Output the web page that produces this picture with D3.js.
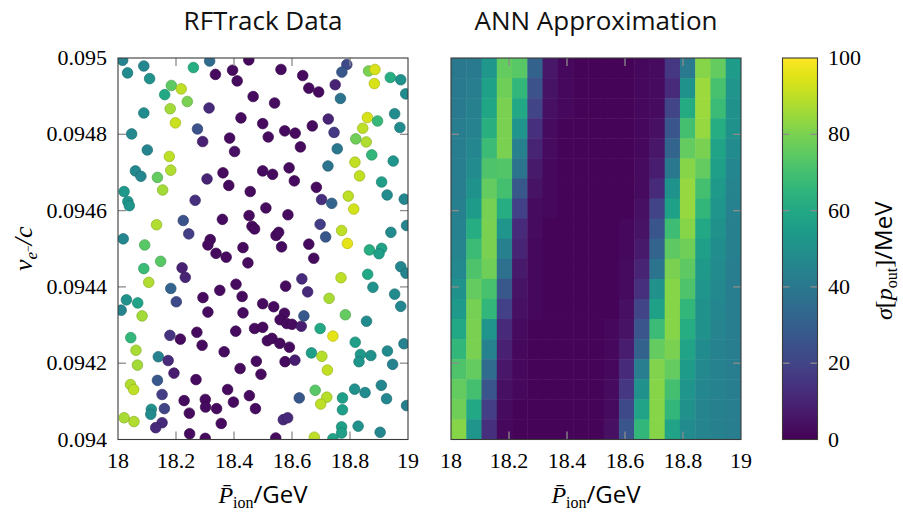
<!DOCTYPE html>
<html>
<head>
<meta charset="utf-8">
<script src="https://cdn.jsdelivr.net/npm/d3@7"></script>
<style>
  body { margin: 0; background: #fff; }
</style>
</head>
<body>
<div id="chart"></div>
<script>
// ---- data ----
// RFTrack samples: momentum (GeV), velocity (c), sigma (MeV)
const sampleP = [
  18.016, 18.089, 18.033, 18.109, 18.184, 18.218, 18.161, 18.239, 18.180, 18.089,
  18.198, 18.260, 18.316, 18.336, 18.395, 18.411, 18.451, 18.466, 18.314, 18.424,
  18.499, 18.274, 18.047, 18.292, 18.385, 18.402, 18.101, 18.177, 18.060, 18.079,
  18.182, 18.136, 18.154, 18.021, 18.034, 18.039, 18.307, 18.362, 18.382, 18.456,
  18.499, 18.266, 18.225, 18.133, 18.244, 18.018, 18.092, 18.360, 18.452, 18.462,
  18.471, 18.318, 18.310, 18.431,
  18.338, 18.373, 18.448, 18.147, 18.089, 18.106, 18.221, 18.232, 18.182, 18.201,
  18.029, 18.068, 18.011, 18.083, 18.293, 18.351, 18.407, 18.428, 18.310, 18.431,
  18.499, 18.044, 18.062, 18.067, 18.179, 18.215, 18.272, 18.290, 18.366, 18.406,
  18.471, 18.499, 18.139, 18.173, 18.193, 18.136, 18.043, 18.054, 18.152, 18.269,
  18.421, 18.477, 18.493, 18.378, 18.228, 18.301, 18.302, 18.340, 18.398, 18.453,
  18.474, 18.160, 18.115, 18.113, 18.021, 18.055, 18.152, 18.130, 18.246, 18.356,
  18.247, 18.301,
  18.562, 18.637, 18.658, 18.692, 18.749, 18.789, 18.772, 18.767, 18.864, 18.886,
  18.884, 18.939, 18.975, 18.992, 18.540, 18.518, 18.575, 18.611, 18.629, 18.670,
  18.725, 18.745, 18.756, 18.860, 18.844, 18.895, 18.954, 18.972, 18.820, 18.856,
  18.875, 18.817, 18.949, 18.724, 18.533, 18.590, 18.608, 18.833, 18.909, 18.928,
  18.987, 18.684, 18.702, 18.737, 18.794, 18.813, 18.510, 18.586, 18.697, 18.716,
  18.771, 18.791, 18.941, 18.995, 18.545, 18.554, 18.564, 18.658,
  18.867, 18.909, 18.900, 18.675, 18.975, 18.993, 18.769, 18.861, 18.879, 18.954,
  18.975, 18.634, 18.578, 18.654, 18.728, 18.784, 18.537, 18.574, 18.559, 18.582,
  18.600, 18.632, 18.641, 18.515, 18.531, 18.558, 18.591, 18.697, 18.741, 18.857,
  18.818, 18.667, 18.703, 18.722, 18.576, 18.610, 18.836, 18.831, 18.872, 18.929,
  18.947, 18.986, 18.625, 18.680, 18.720, 18.699, 18.774, 18.816, 18.852, 18.908,
  18.926, 18.995, 18.774, 18.570, 18.585, 18.544, 18.677, 18.741, 18.771, 18.771,
  18.828, 18.904
];
const sampleV = [
  0.094994, 0.094979, 0.094961, 0.094946, 0.094928, 0.094919, 0.094904, 0.094886, 0.094867, 0.094856,
  0.094830, 0.094975, 0.094992, 0.094957, 0.094968, 0.094940, 0.094995, 0.094899, 0.094869, 0.094843,
  0.094828, 0.094814, 0.094801, 0.094781, 0.094790, 0.094755, 0.094759, 0.094742, 0.094704, 0.094690,
  0.094706, 0.094687, 0.094654, 0.094650, 0.094624, 0.094613, 0.094683, 0.094699, 0.094666, 0.094650,
  0.094704, 0.094627, 0.094574, 0.094563, 0.094539, 0.094526, 0.094510, 0.094577, 0.094587, 0.094559,
  0.094552, 0.094524, 0.094510, 0.094503,
  0.094488, 0.094478, 0.094463, 0.094467, 0.094448, 0.094412, 0.094450, 0.094425, 0.094396, 0.094361,
  0.094366, 0.094358, 0.094339, 0.094324, 0.094372, 0.094391, 0.094407, 0.094375, 0.094334, 0.094332,
  0.094356, 0.094267, 0.094234, 0.094195, 0.094273, 0.094263, 0.094281, 0.094247, 0.094230, 0.094284,
  0.094291, 0.094294, 0.094217, 0.094207, 0.094174, 0.094155, 0.094144, 0.094131, 0.094118, 0.094157,
  0.094186, 0.094205, 0.094171, 0.094131, 0.094102, 0.094105, 0.094085, 0.094081, 0.094098, 0.094115,
  0.094081, 0.094081, 0.094079, 0.094066, 0.094057, 0.094047, 0.094044, 0.094031, 0.094069, 0.094042,
  0.094015, 0.094003,
  0.094970, 0.094954, 0.094921, 0.094911, 0.094930, 0.094983, 0.094963, 0.094894, 0.094966, 0.094970,
  0.094933, 0.094949, 0.094943, 0.094906, 0.094882, 0.094793, 0.094809, 0.094803, 0.094767, 0.094822,
  0.094840, 0.094805, 0.094762, 0.094844, 0.094816, 0.094835, 0.094854, 0.094818, 0.094788, 0.094780,
  0.094746, 0.094727, 0.094730, 0.094717, 0.094695, 0.094712, 0.094678, 0.094691, 0.094675, 0.094641,
  0.094630, 0.094661, 0.094629, 0.094619, 0.094638, 0.094604, 0.094607, 0.094589, 0.094564, 0.094531,
  0.094548, 0.094514, 0.094543, 0.094561, 0.094535, 0.094543, 0.094505, 0.094512,
  0.094497, 0.094501, 0.094487, 0.094475, 0.094453, 0.094436, 0.094424, 0.094433, 0.094399, 0.094381,
  0.094349, 0.094421, 0.094402, 0.094387, 0.094370, 0.094327, 0.094348, 0.094331, 0.094314, 0.094304,
  0.094302, 0.094297, 0.094324, 0.094259, 0.094265, 0.094252, 0.094242, 0.094291, 0.094271, 0.094310,
  0.094255, 0.094227, 0.094218, 0.094182, 0.094204, 0.094208, 0.094223, 0.094204, 0.094220, 0.094232,
  0.094197, 0.094251, 0.094109, 0.094129, 0.094111, 0.094093, 0.094109, 0.094132, 0.094123, 0.094142,
  0.094107, 0.094089, 0.094078, 0.094052, 0.094057, 0.094004, 0.094006, 0.094002, 0.094033, 0.094017,
  0.094035, 0.094019
];
const sampleSigma = [
  45, 46, 48, 50, 75, 90, 60, 80, 86, 48,
  92, 62, 35, 3, 3, 3, 2, 3, 12, 3,
  3, 25, 47, 9, 3, 4, 45, 90, 47, 46,
  88, 76, 86, 54, 52, 52, 10, 3, 3, 3,
  3, 14, 25, 88, 18, 46, 74, 3, 3, 3,
  3, 3, 3, 3,
  3, 3, 3, 74, 68, 88, 9, 10, 32, 22,
  50, 58, 45, 86, 3, 3, 3, 3, 3, 3,
  3, 66, 87, 86, 15, 3, 3, 3, 3, 3,
  3, 3, 44, 12, 8, 27, 88, 90, 18, 3,
  3, 3, 3, 3, 3, 3, 3, 3, 3, 3,
  3, 20, 50, 48, 87, 88, 12, 12, 3, 3,
  3, 3,
  3, 3, 3, 3, 10, 22, 27, 38, 80, 94,
  94, 62, 50, 48, 3, 3, 3, 3, 3, 3,
  10, 17, 40, 94, 90, 67, 48, 48, 78, 88,
  66, 91, 52, 38, 3, 3, 3, 91, 56, 48,
  46, 3, 13, 32, 90, 93, 3, 3, 18, 27,
  90, 96, 48, 45, 3, 3, 3, 3,
  62, 58, 56, 3, 46, 45, 90, 60, 50, 48,
  46, 12, 3, 12, 87, 76, 3, 3, 3, 3,
  3, 8, 27, 3, 3, 3, 3, 60, 96, 48,
  56, 56, 89, 91, 3, 8, 54, 52, 50, 48,
  44, 44, 27, 74, 89, 90, 56, 50, 48, 46,
  46, 42, 56, 12, 12, 3, 90, 58, 56, 56,
  50, 46
];

// ANN approximation grid: 19 x 19 cells, rows listed from v = 0.095 (top) down to 0.094
const annSigma = [
  [40, 41, 53, 76, 74, 31, 6, 2, 1, 1, 1, 1, 2, 3, 16, 41, 82, 76, 55],
  [41, 42, 57, 78, 66, 25, 5, 2, 1, 1, 1, 1, 2, 3, 12, 51, 85, 71, 52],
  [41, 43, 59, 80, 60, 20, 4, 2, 1, 1, 1, 1, 2, 3, 20, 61, 85, 68, 50],
  [42, 44, 63, 80, 52, 14, 3, 1, 1, 1, 1, 1, 2, 4, 26, 70, 84, 62, 50],
  [42, 46, 68, 80, 43, 10, 3, 1, 1, 1, 1, 1, 2, 6, 32, 76, 80, 58, 48],
  [42, 48, 72, 73, 38, 7, 2, 1, 1, 1, 1, 1, 3, 8, 40, 82, 76, 56, 46],
  [42, 51, 76, 70, 27, 5, 2, 1, 1, 1, 1, 1, 3, 12, 51, 84, 70, 54, 45],
  [43, 55, 79, 62, 19, 3, 2, 1, 1, 1, 1, 1, 4, 20, 57, 84, 66, 52, 44],
  [44, 62, 80, 52, 12, 3, 1, 1, 1, 1, 1, 2, 5, 26, 69, 82, 60, 50, 43],
  [45, 68, 80, 43, 10, 2, 1, 1, 1, 1, 1, 2, 7, 32, 75, 78, 56, 49, 43],
  [47, 72, 78, 37, 7, 2, 1, 1, 1, 1, 1, 3, 10, 38, 80, 75, 54, 48, 42],
  [50, 76, 71, 27, 5, 2, 1, 1, 1, 1, 1, 3, 14, 50, 82, 72, 52, 47, 42],
  [54, 79, 66, 19, 4, 2, 1, 1, 1, 1, 1, 4, 20, 57, 82, 66, 50, 46, 42],
  [60, 80, 52, 12, 3, 1, 1, 1, 1, 1, 2, 5, 26, 68, 82, 62, 50, 45, 42],
  [66, 80, 44, 9, 2, 1, 1, 1, 1, 1, 2, 8, 31, 76, 80, 58, 48, 44, 42],
  [72, 76, 35, 6, 2, 1, 1, 1, 1, 1, 2, 12, 42, 81, 76, 55, 47, 44, 42],
  [76, 70, 26, 4, 2, 1, 1, 1, 1, 1, 3, 16, 50, 82, 70, 52, 46, 44, 42],
  [78, 60, 18, 3, 1, 1, 1, 1, 1, 1, 3, 22, 58, 82, 66, 50, 45, 43, 42],
  [82, 52, 14, 2, 1, 1, 1, 1, 1, 1, 4, 26, 66, 82, 58, 48, 45, 43, 42]
];

const xTicks = [18, 18.2, 18.4, 18.6, 18.8, 19];
const xTickLabels = ["18", "18.2", "18.4", "18.6", "18.8", "19"];
const yTicks = [0.094, 0.0942, 0.0944, 0.0946, 0.0948, 0.095];
const yTickLabels = ["0.094", "0.0942", "0.0944", "0.0946", "0.0948", "0.095"];
const cbTicks = [0, 20, 40, 60, 80, 100];

// ---- layout ----
const width = 903, height = 513;
const serif = "'Liberation Serif', 'DejaVu Serif', serif";
const sans = "'Open Sans', 'DejaVu Sans', sans-serif";
const plotTop = 58, plotBottom = 439.5;
const panels = [
  { id: "rf", left: 118, right: 408, title: "RFTrack Data" },
  { id: "ann", left: 451, right: 741, title: "ANN Approximation" }
];
const cb = { left: 782.5, right: 817.5 };

const svg = d3.select("#chart").append("svg")
    .attr("width", width).attr("height", height)
    .style("background", "white");

const color = d3.scaleSequential(d3.interpolateViridis).domain([0, 100]);
const y = d3.scaleLinear().domain([0.094, 0.095]).range([plotBottom, plotTop]);

const defs = svg.append("defs");

panels.forEach(p => {
    p.x = d3.scaleLinear().domain([18, 19]).range([p.left, p.right]);
    defs.append("clipPath").attr("id", "clip-" + p.id)
      .append("rect")
        .attr("x", p.left).attr("y", plotTop)
        .attr("width", p.right - p.left).attr("height", plotBottom - plotTop);
});

// ---- ANN heat map ----
const ann = panels[1];
const colBand = d3.scaleBand().domain(d3.range(annSigma[0].length))
    .range([ann.x(18), ann.x(19)]);
const rowBand = d3.scaleBand().domain(d3.range(annSigma.length))
    .range([y(0.095), y(0.094)]);

const cells = [];
annSigma.forEach((row, r) => row.forEach((v, c) => cells.push({ r, c, v })));

svg.append("g").attr("clip-path", "url(#clip-ann)")
  .selectAll("rect").data(cells).join("rect")
    .attr("x", d => colBand(d.c))
    .attr("y", d => rowBand(d.r))
    .attr("width", colBand.bandwidth() + 0.5)
    .attr("height", rowBand.bandwidth() + 0.5)
    .attr("fill", d => color(d.v));

// ---- RFTrack scatter ----
const rf = panels[0];
const pts = sampleP.map((p, i) => ({ p, v: sampleV[i], s: sampleSigma[i] }));

svg.append("g").attr("clip-path", "url(#clip-rf)")
  .selectAll("circle").data(pts).join("circle")
    .attr("cx", d => rf.x(d.p))
    .attr("cy", d => y(d.v))
    .attr("r", 5.3)
    .attr("fill", d => color(d.s))
    .attr("stroke", d => d3.color(color(d.s)).darker(0.6))
    .attr("stroke-width", 0.7);

// ---- frames, ticks, tick labels ----
const tickLen = 8;
panels.forEach((p, i) => {
    const g = svg.append("g");
    const inner = xTicks.slice(1, -1);
    const innerY = yTicks.slice(1, -1);

    inner.forEach(t => {
        g.append("line").attr("x1", p.x(t)).attr("x2", p.x(t))
          .attr("y1", plotBottom).attr("y2", plotBottom - tickLen);
        g.append("line").attr("x1", p.x(t)).attr("x2", p.x(t))
          .attr("y1", plotTop).attr("y2", plotTop + tickLen);
    });
    innerY.forEach(t => {
        g.append("line").attr("x1", p.left).attr("x2", p.left + tickLen)
          .attr("y1", y(t)).attr("y2", y(t));
        g.append("line").attr("x1", p.right).attr("x2", p.right - tickLen)
          .attr("y1", y(t)).attr("y2", y(t));
    });
    g.selectAll("line").attr("stroke", "#8c8c8c").attr("stroke-width", 1.3);

    g.append("rect")
        .attr("x", p.left).attr("y", plotTop)
        .attr("width", p.right - p.left).attr("height", plotBottom - plotTop)
        .attr("fill", "none").attr("stroke", "#3a3a3a").attr("stroke-width", 1.1);

    svg.append("g").selectAll("text").data(xTicks).join("text")
        .attr("x", d => p.x(d)).attr("y", 468)
        .attr("text-anchor", "middle")
        .style("font-family", serif).style("font-size", "22px")
        .text((d, k) => xTickLabels[k]);

    if (i === 0) {
        svg.append("g").selectAll("text").data(yTicks).join("text")
            .attr("x", 107).attr("y", d => y(d) + 7)
            .attr("text-anchor", "end")
            .style("font-family", serif).style("font-size", "22px")
            .text((d, k) => yTickLabels[k]);
    }

    svg.append("text")
        .attr("x", (p.left + p.right) / 2).attr("y", 30)
        .attr("text-anchor", "middle")
        .style("font-family", sans).style("font-size", "26px")
        .style("fill", "#111")
        .text(p.title);

    // x label  P̄_ion / GeV
    const xl = svg.append("text")
        .attr("x", (p.left + p.right) / 2).attr("y", 503)
        .attr("text-anchor", "middle")
        .style("font-size", "24px");
    xl.append("tspan").style("font-family", serif).style("font-style", "italic").text("P\u0304");
    xl.append("tspan").style("font-family", serif).style("font-size", "16px")
        .attr("dy", 5).text("ion");
    xl.append("tspan").style("font-family", sans).attr("dy", -5).text("/GeV");
});

// y label  v_{e-}/c
const yl = svg.append("text")
    .attr("transform", `translate(32,${(plotTop + plotBottom) / 2}) rotate(-90)`)
    .attr("text-anchor", "middle")
    .style("font-family", serif).style("font-style", "italic").style("font-size", "26px");
yl.append("tspan").text("v");
yl.append("tspan").style("font-size", "17px").attr("dy", 5).text("e");
yl.append("tspan").style("font-size", "12px").style("font-style", "normal").attr("dy", -5).text("\u2212");
yl.append("tspan").attr("dy", 0).text("/c");

// ---- colour bar ----
const cbScale = d3.scaleLinear().domain([0, 100]).range([plotBottom, plotTop]);
const grad = defs.append("linearGradient").attr("id", "cbgrad")
    .attr("x1", 0).attr("y1", 1).attr("x2", 0).attr("y2", 0);
grad.selectAll("stop").data(d3.range(0, 101, 5)).join("stop")
    .attr("offset", d => d / 100)
    .attr("stop-color", d => color(d));

svg.append("rect")
    .attr("x", cb.left).attr("y", plotTop)
    .attr("width", cb.right - cb.left).attr("height", plotBottom - plotTop)
    .attr("fill", "url(#cbgrad)");

const cbg = svg.append("g");
cbTicks.slice(1, -1).forEach(t => {
    cbg.append("line").attr("x1", cb.left).attr("x2", cb.left + 7)
      .attr("y1", cbScale(t)).attr("y2", cbScale(t));
    cbg.append("line").attr("x1", cb.right).attr("x2", cb.right - 7)
      .attr("y1", cbScale(t)).attr("y2", cbScale(t));
});
cbg.selectAll("line").attr("stroke", "#8c8c8c").attr("stroke-width", 1.3);

svg.append("rect")
    .attr("x", cb.left).attr("y", plotTop)
    .attr("width", cb.right - cb.left).attr("height", plotBottom - plotTop)
    .attr("fill", "none").attr("stroke", "#3a3a3a").attr("stroke-width", 1.1);

svg.append("g").selectAll("text").data(cbTicks).join("text")
    .attr("x", 828).attr("y", d => cbScale(d) + 7)
    .style("font-family", serif).style("font-size", "22px")
    .text(d => d);

// colour bar label  σ[p_out]/MeV
const cl = svg.append("text")
    .attr("transform", `translate(892,${(plotTop + plotBottom) / 2 + 12}) rotate(-90)`)
    .attr("text-anchor", "middle")
    .style("font-size", "24px");
cl.append("tspan").style("font-family", serif).style("font-style", "italic").text("\u03c3");
cl.append("tspan").style("font-family", serif).text("[");
cl.append("tspan").style("font-family", serif).style("font-style", "italic").text("p");
cl.append("tspan").style("font-family", serif).style("font-size", "16px").attr("dy", 5).text("out");
cl.append("tspan").style("font-family", serif).attr("dy", -5).text("]");
cl.append("tspan").style("font-family", sans).text("/MeV");
</script>
</body>
</html>
